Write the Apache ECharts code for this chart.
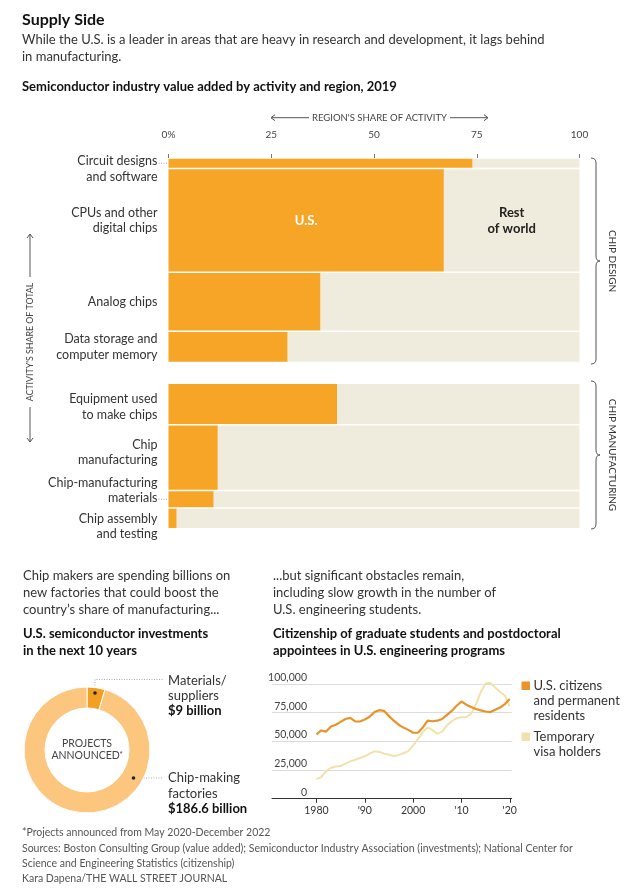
<!DOCTYPE html>
<html><head><meta charset="utf-8">
<script src="https://cdn.jsdelivr.net/npm/echarts@6.0.0/dist/echarts.min.js"></script>
<style>html,body{margin:0;padding:0;background:#fff}#c{width:641px;height:892px}</style>
</head><body><div id="c"></div>
<script>
// ---------- DATA ----------
const activities = ['Circuit designs\nand software', 'CPUs and other\ndigital chips', 'Analog chips', 'Data storage and\ncomputer memory', 'Equipment used\nto make chips', 'Chip\nmanufacturing', 'Chip-manufacturing\nmaterials', 'Chip assembly\nand testing'];
const activityGroup = ['CHIP DESIGN', 'CHIP DESIGN', 'CHIP DESIGN', 'CHIP DESIGN', 'CHIP MANUFACTURING', 'CHIP MANUFACTURING', 'CHIP MANUFACTURING', 'CHIP MANUFACTURING'];
const activityShare = [3, 30, 17, 9, 12, 19, 5, 6];
const usShare = [74, 67, 37, 29, 41, 12, 11, 2];
const shareTicks = [0, 25, 50, 75, 100];

const investNames = ['Materials/suppliers', 'Chip-making factories'];
const investValues = [9, 186.6];

const years = [1980,1981,1982,1983,1984,1985,1986,1987,1988,1989,1990,1991,1992,1993,1994,1995,1996,1997,1998,1999,2000,2001,2002,2003,2004,2005,2006,2007,2008,2009,2010,2011,2012,2013,2014,2015,2016,2017,2018,2019,2020];
const usCitizens = [56000,59500,58500,63000,64500,67000,69500,70500,67500,67300,69000,71500,75500,77200,76500,72000,68000,64500,62000,60000,57500,57500,62000,68000,67500,68000,69500,73000,76500,81000,84700,82000,80000,78200,77000,76000,75500,77500,79500,82500,87000];
const tempVisa = [17000,18800,24000,27000,28000,28500,30500,32500,34000,35500,37000,39300,41300,40800,39300,38400,37300,38000,39600,41500,46500,52000,58000,62000,60000,56500,58500,64000,67500,70200,71000,71200,74000,82000,93000,100500,101000,97000,93000,90000,80500];
const yearTicks = [1980, 1990, 2000, 2010, 2020];
const yearTickLabels = ['1980', "'90", '2000', "'10", "'20"];
const countTicks = [0, 25000, 50000, 75000, 100000];

// ---------- STYLE / LAYOUT ----------
const FONT = 'Lato, "Noto Sans", sans-serif';
const ORANGE = '#f6a526', BEIGE = '#f0ecdd';
const GAP = 6;
const labelNudge = [6, 0, 0, 0, 3, -5, -9, 8];
const leader = [true, false, false, false, false, false, true, false];

const chart = echarts.init(document.getElementById('c'), null, {renderer: 'canvas'});

function rowStart(i) {
  let s = 0;
  for (let j = 0; j < i; j++) s += activityShare[j];
  if (activityGroup[i] !== activityGroup[0]) s += GAP;
  return s;
}
const totalRows = activityShare.reduce((a, b) => a + b, 0) + GAP;
const bigRow = activityShare.indexOf(Math.max(...activityShare));

function textEl(x, y, text, o) {
  o = o || {};
  const al = o.align || 'left', va = o.va || 'middle';
  return {
    type: 'text', x: x, y: y, rotation: o.rot || 0, silent: true, z: 10,
    style: {
      text: text, x: 0, y: 0, fill: o.color || '#333',
      font: (o.weight || 'normal') + ' ' + (o.size || 13) + 'px ' + FONT,
      textAlign: al, align: al, textVerticalAlign: va, verticalAlign: va,
      lineHeight: o.lh, rich: o.rich
    }
  };
}

function renderRow(params, api) {
  const i = api.value(0);
  const y0 = rowStart(i), y1 = y0 + activityShare[i];
  const p0 = api.coord([0, y0]);
  const p1 = api.coord([100, y1]);
  const pu = api.coord([usShare[i], y0]);
  const top = p0[1] + 0.75, h = p1[1] - p0[1] - 1.5;
  const cy = (p0[1] + p1[1]) / 2;
  const children = [
    {type: 'rect', shape: {x: p0[0], y: top, width: pu[0] - p0[0], height: h}, style: {fill: ORANGE}},
    {type: 'rect', shape: {x: pu[0], y: top, width: p1[0] - pu[0], height: h}, style: {fill: BEIGE}},
    {type: 'text', style: {text: activities[i], x: p0[0] - 11, y: cy + labelNudge[i], fill: '#333',
      font: 'normal 12.5px ' + FONT, textAlign: 'right', align: 'right', textVerticalAlign: 'middle', verticalAlign: 'middle', lineHeight: 15.5}}
  ];
  if (leader[i]) {
    children.push({type: 'line', shape: {x1: p0[0] - 10, y1: cy, x2: p0[0] - 1, y2: cy}, style: {stroke: '#aaa', lineWidth: 1, lineDash: [1, 1.5]}});
  }
  if (i === bigRow) {
    children.push({type: 'text', style: {text: 'U.S.', x: (p0[0] + pu[0]) / 2, y: cy, fill: '#fff', font: 'bold 13px ' + FONT, textAlign: 'center', align: 'center', textVerticalAlign: 'middle', verticalAlign: 'middle'}});
    children.push({type: 'text', style: {text: 'Rest\nof world', x: (pu[0] + p1[0]) / 2, y: cy, fill: '#222', font: 'bold 13px ' + FONT, textAlign: 'center', align: 'center', textVerticalAlign: 'middle', verticalAlign: 'middle', lineHeight: 16}});
  }
  return {type: 'group', children: children};
}

// ---------- GRAPHIC ANNOTATIONS ----------
const G = [];
G.push(textEl(22, 20, 'Supply Side', {size: 16, weight: 'bold', color: '#111'}));
G.push(textEl(22, 40, 'While the U.S. is a leader in areas that are heavy in research and development, it lags behind', {size: 13}));
G.push(textEl(22, 57, 'in manufacturing.', {size: 13}));
G.push(textEl(22, 87, 'Semiconductor industry value added by activity and region, 2019', {size: 13, weight: 'bold', color: '#111'}));
G.push(textEl(379.5, 117.7, "REGION'S SHARE OF ACTIVITY", {size: 9.5, align: 'center', color: '#444'}));
function hArrow(xTail, xHead, y) {
  const d = xHead > xTail ? -1 : 1;
  G.push({type: 'line', silent: true, shape: {x1: xTail, y1: y, x2: xHead, y2: y}, style: {stroke: '#555', lineWidth: 1}});
  G.push({type: 'polyline', silent: true, shape: {points: [[xHead + 4 * d, y - 3], [xHead, y], [xHead + 4 * d, y + 3]]}, style: {stroke: '#555', lineWidth: 1, fill: null}});
}
function vArrow(x, yTail, yHead) {
  const d = yHead > yTail ? -1 : 1;
  G.push({type: 'line', silent: true, shape: {x1: x, y1: yTail, x2: x, y2: yHead}, style: {stroke: '#555', lineWidth: 1}});
  G.push({type: 'polyline', silent: true, shape: {points: [[x - 3, yHead + 4 * d], [x, yHead], [x + 3, yHead + 4 * d]]}, style: {stroke: '#555', lineWidth: 1, fill: null}});
}
hArrow(309, 271, 117.7);
hArrow(450, 488, 117.7);
G.push(textEl(30, 342, "ACTIVITY'S SHARE OF TOTAL", {size: 8.8, align: 'center', color: '#444', rot: Math.PI / 2}));
vArrow(30, 277, 234);
vArrow(30, 407, 442);

function brace(y0, y1, label) {
  const x0 = 591, x1 = 596, x2 = 600, r = 5, ym = (y0 + y1) / 2;
  const st = {stroke: '#555', lineWidth: 1, fill: null};
  const bz = (a, b, cp, c) => G.push({type: 'bezierCurve', silent: true, shape: {x1: a, y1: b, cpx1: cp[0], cpy1: cp[1], x2: c[0], y2: c[1]}, style: st});
  bz(x0, y0, [x1, y0], [x1, y0 + r]);
  G.push({type: 'line', silent: true, shape: {x1: x1, y1: y0 + r, x2: x1, y2: ym - r}, style: st});
  bz(x1, ym - r, [x1, ym], [x2, ym]);
  bz(x2, ym, [x1, ym], [x1, ym + r]);
  G.push({type: 'line', silent: true, shape: {x1: x1, y1: ym + r, x2: x1, y2: y1 - r}, style: st});
  bz(x1, y1 - r, [x1, y1], [x0, y1]);
  G.push(textEl(612, ym, label, {size: 10, align: 'center', color: '#333', rot: -Math.PI / 2}));
}
brace(158, 364, 'CHIP DESIGN');
brace(381, 529, 'CHIP MANUFACTURING');

// bottom-left texts
['Chip makers are spending billions on', 'new factories that could boost the', 'country\u2019s share of manufacturing...'].forEach((s, k) => G.push(textEl(23, 576 + k * 16.7, s, {size: 13})));
['U.S. semiconductor investments', 'in the next 10 years'].forEach((s, k) => G.push(textEl(23, 633.5 + k * 17.2, s, {size: 13, weight: 'bold', color: '#111'})));
// donut center & annotations
G.push(textEl(87, 743.5, 'PROJECTS', {size: 10.5, align: 'center', color: '#444'}));
G.push(textEl(87, 756, 'ANNOUNCED{s|*}', {size: 10.5, align: 'center', color: '#444', rich: {s: {fontSize: 7, verticalAlign: 'top', fill: '#444', font: 'normal 7px ' + FONT}}}));
G.push({type: 'polyline', silent: true, shape: {points: [[95, 693], [95, 679.5], [163, 679.5]]}, style: {stroke: '#aaa', lineWidth: 1, lineDash: [1, 1.5], fill: null}});
G.push({type: 'circle', silent: true, shape: {cx: 95, cy: 693, r: 1.8}, style: {fill: '#222'}, z: 20});
G.push({type: 'line', silent: true, shape: {x1: 133.5, y1: 778, x2: 163, y2: 778}, style: {stroke: '#aaa', lineWidth: 1, lineDash: [1, 1.5]}});
G.push({type: 'circle', silent: true, shape: {cx: 133.5, cy: 778, r: 1.8}, style: {fill: '#222'}, z: 20});
G.push(textEl(168, 680.5, 'Materials/', {size: 13}));
G.push(textEl(168, 696, 'suppliers', {size: 13}));
G.push(textEl(168, 711, '$' + investValues[0] + ' billion', {size: 13, weight: 'bold', color: '#111'}));
G.push(textEl(168, 778, 'Chip-making', {size: 13}));
G.push(textEl(168, 793.5, 'factories', {size: 13}));
G.push(textEl(168, 808.5, '$' + investValues[1] + ' billion', {size: 13, weight: 'bold', color: '#111'}));

// bottom-right texts
['...but significant obstacles remain,', 'including slow growth in the number of', 'U.S. engineering students.'].forEach((s, k) => G.push(textEl(273, 576 + k * 16.7, s, {size: 13})));
['Citizenship of graduate students and postdoctoral', 'appointees in U.S. engineering programs'].forEach((s, k) => G.push(textEl(273, 633.5 + k * 17.2, s, {size: 13, weight: 'bold', color: '#111'})));
// legend
G.push({type: 'rect', silent: true, shape: {x: 521.5, y: 681.5, width: 8.5, height: 8.5}, style: {fill: '#e8932b'}});
['U.S. citizens', 'and permanent', 'residents'].forEach((s, k) => G.push(textEl(533.5, 685.5 + k * 15, s, {size: 13})));
G.push({type: 'rect', silent: true, shape: {x: 521.5, y: 732.5, width: 8.5, height: 8.5}, style: {fill: '#f3e1ac'}});
['Temporary', 'visa holders'].forEach((s, k) => G.push(textEl(533.5, 737 + k * 15, s, {size: 13})));

// footer
['*Projects announced from May 2020-December 2022', 'Sources: Boston Consulting Group (value added); Semiconductor Industry Association (investments); National Center for', 'Science and Engineering Statistics (citizenship)', 'Kara Dapena/THE WALL STREET JOURNAL'].forEach((s, k) => G.push(textEl(22, 833 + k * 15.2, s, {size: 10.5, color: '#555'})));

// ---------- OPTION ----------
const option = {
  animation: false,
  backgroundColor: '#fff',
  textStyle: {fontFamily: FONT},
  grid: [
    {left: 168.5, right: 61.5, top: 158, bottom: 363.3},
    {left: 272, right: 129.3, top: 684, bottom: 93.3}
  ],
  xAxis: [
    {gridIndex: 0, type: 'value', position: 'top', min: 0, max: 100, interval: 25, offset: 9,
      axisLine: {show: false}, axisTick: {show: true, length: 4, lineStyle: {color: '#777'}},
      axisLabel: {margin: 9, fontSize: 10, color: '#444', formatter: v => v === shareTicks[0] ? v + '%' : String(v)},
      splitLine: {show: false}},
    {gridIndex: 1, type: 'value', min: 1970.8, max: 2020.4,
      axisLine: {show: true, lineStyle: {color: '#333', width: 1}},
      axisTick: {show: true, length: 4, customValues: yearTicks, lineStyle: {color: '#333'}},
      axisLabel: {customValues: yearTicks, margin: 6, fontSize: 10.5, color: '#333',
        formatter: v => yearTickLabels[yearTicks.indexOf(Math.round(v))] || ''},
      splitLine: {show: false}}
  ],
  yAxis: [
    {gridIndex: 0, type: 'value', inverse: true, min: 0, max: totalRows, show: false},
    {gridIndex: 1, type: 'value', min: 0, max: 100000, interval: 25000,
      axisLine: {show: false}, axisTick: {show: false},
      axisLabel: {inside: true, align: 'right', margin: 35, verticalAlign: 'bottom', fontSize: 10.5, color: '#444', padding: [0, 0, 1, 0],
        formatter: v => v.toLocaleString('en-US')},
      splitLine: {show: true, lineStyle: {color: '#dcdcdc', width: 1}}}
  ],
  series: [
    {type: 'custom', xAxisIndex: 0, yAxisIndex: 0, renderItem: renderRow, silent: true, clip: false,
      data: activities.map((a, i) => [i])},
    {type: 'line', xAxisIndex: 1, yAxisIndex: 1, name: 'Temporary visa holders', data: years.map((y, i) => [y, tempVisa[i]]),
      showSymbol: false, symbol: 'none', clip: false, lineStyle: {color: '#f3e1ac', width: 2}, z: 3},
    {type: 'line', xAxisIndex: 1, yAxisIndex: 1, name: 'U.S. citizens and permanent residents', data: years.map((y, i) => [y, usCitizens[i]]),
      showSymbol: false, symbol: 'none', clip: false, lineStyle: {color: '#e8932b', width: 2.2}, z: 4},
    {type: 'pie', center: [87, 750], radius: [42, 63], startAngle: 90, clockwise: true, silent: true,
      label: {show: false}, labelLine: {show: false},
      itemStyle: {borderColor: '#fff', borderWidth: 1},
      data: [
        {name: investNames[0], value: investValues[0], itemStyle: {color: '#f29f22'}},
        {name: investNames[1], value: investValues[1], itemStyle: {color: '#fcc67f'}}
      ]}
  ],
  graphic: {elements: G}
};
chart.setOption(option);
</script></body></html>
